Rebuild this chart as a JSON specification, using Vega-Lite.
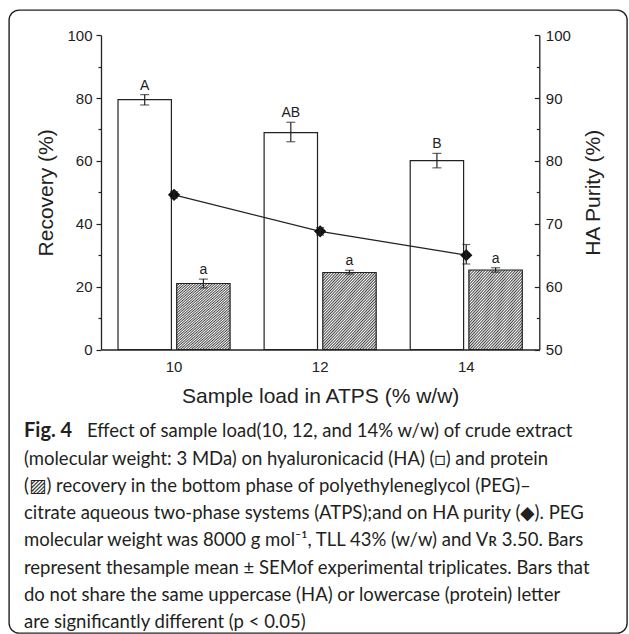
{
  "$schema": "https://vega.github.io/schema/vega-lite/v6.json",
  "width": 618,
  "height": 623,
  "autosize": {"type": "none"},
  "padding": {"left": 9, "top": 10, "right": 2, "bottom": 1},
  "background": "white",
  "config": {
    "view": {"stroke": "#231f20", "strokeWidth": 1.4, "cornerRadius": 10},
    "font": "Liberation Sans"
  },
  "datasets": {
    "bars": [
      {"load": "10", "type": "HA", "mean": 79.5, "lo": 77.8, "hi": 81.1, "letter": "A"},
      {"load": "10", "type": "Protein", "mean": 21.0, "lo": 19.6, "hi": 22.4, "letter": "a"},
      {"load": "12", "type": "HA", "mean": 69.0, "lo": 66.1, "hi": 72.3, "letter": "AB"},
      {"load": "12", "type": "Protein", "mean": 24.5, "lo": 24.0, "hi": 25.2, "letter": "a"},
      {"load": "14", "type": "HA", "mean": 60.1, "lo": 57.8, "hi": 62.4, "letter": "B"},
      {"load": "14", "type": "Protein", "mean": 25.3, "lo": 24.6, "hi": 26.0, "letter": "a"}
    ],
    "purity": [
      {"load": "10", "purity": 74.6, "lo": 74.1, "hi": 75.1},
      {"load": "12", "purity": 68.8, "lo": 68.2, "hi": 69.4},
      {"load": "14", "purity": 65.0, "lo": 63.6, "hi": 66.7}
    ],
    "caption": [
      {"line": 1, "col": "left", "role": "label", "text": "Fig. 4"},
      {"line": 1, "col": "right", "role": "body", "text": "Effect of sample load(10, 12, and 14% w/w) of crude extract"},
      {"line": 2, "col": "left", "role": "body", "text": "(molecular weight: 3 MDa) on hyaluronicacid (HA) (□) and protein"},
      {"line": 3, "col": "left", "role": "body", "text": "(▨) recovery in the bottom phase of polyethyleneglycol (PEG)–"},
      {"line": 4, "col": "left", "role": "body", "text": "citrate aqueous two-phase systems (ATPS);and on HA purity (◆). PEG"},
      {"line": 5, "col": "left", "role": "body", "text": "molecular weight was 8000 g mol⁻¹, TLL 43% (w/w) and Vʀ 3.50. Bars"},
      {"line": 6, "col": "left", "role": "body", "text": "represent thesample mean ± SEMof experimental triplicates. Bars that"},
      {"line": 7, "col": "left", "role": "body", "text": "do not share the same uppercase (HA) or lowercase (protein) letter"},
      {"line": 8, "col": "left", "role": "body", "text": "are significantly different (p < 0.05)"}
    ]
  },
  "layer": [
    {
      "layer": [
        {
          "data": {"name": "bars"},
          "layer": [
            {
              "mark": {"type": "bar", "stroke": "#222", "strokeWidth": 1.2},
              "encoding": {
                "x": {
                  "field": "load", "type": "ordinal",
                  "scale": {"type": "band", "range": [92, 530.3], "paddingInner": 0, "paddingOuter": 0},
                  "axis": {
                    "orient": "bottom", "offset": -283.5, "labelAngle": 0, "ticks": false, "tickSize": 0,
                    "labelPadding": 10, "labelFontSize": 15, "labelColor": "#222",
                    "title": "Sample load in ATPS (% w/w)", "titleFontSize": 21, "titleFontWeight": "normal",
                    "titleColor": "#222", "titlePadding": 11, "domainColor": "#222", "domainWidth": 1.3, "grid": false
                  }
                },
                "xOffset": {
                  "field": "type", "type": "nominal",
                  "scale": {"domain": ["HA", "Protein"], "paddingInner": 0.09, "paddingOuter": 0.29}
                },
                "y": {
                  "field": "mean", "type": "quantitative",
                  "scale": {"domain": [0, 100], "range": [339.5, 25.2], "nice": false},
                  "axis": {
                    "orient": "left", "offset": -92,
                    "values": [0, 10, 20, 30, 40, 50, 60, 70, 80, 90, 100],
                    "labelExpr": "datum.value % 20 === 0 ? datum.label : ''",
                    "tickSize": {"condition": {"test": "datum.value % 20 === 0", "value": 5}, "value": 3},
                    "labelPadding": 4, "labelFontSize": 15, "labelColor": "#222", "labelOverlap": false, "labelFlush": false,
                    "title": "Recovery (%)", "titleFontSize": 21, "titleFontWeight": "normal", "titleColor": "#222", "titlePadding": 10,
                    "domainColor": "#222", "domainWidth": 1.3, "tickColor": "#222", "tickWidth": 1.2, "grid": false
                  }
                },
                "fill": {
                  "condition": {
                    "test": "datum.type === 'Protein'",
                    "value": {
                      "gradient": "linear", "x1": 0, "y1": 0, "x2": 0.816, "y2": 1.133,
                      "stops": [
                        {"offset": 0, "color": "#444444"}, {"offset": 0.0109, "color": "#ffffff"},
                        {"offset": 0.0217, "color": "#444444"}, {"offset": 0.0326, "color": "#ffffff"},
                        {"offset": 0.0435, "color": "#444444"}, {"offset": 0.0543, "color": "#ffffff"},
                        {"offset": 0.0652, "color": "#444444"}, {"offset": 0.0761, "color": "#ffffff"},
                        {"offset": 0.0870, "color": "#444444"}, {"offset": 0.0978, "color": "#ffffff"},
                        {"offset": 0.1087, "color": "#444444"}, {"offset": 0.1196, "color": "#ffffff"},
                        {"offset": 0.1304, "color": "#444444"}, {"offset": 0.1413, "color": "#ffffff"},
                        {"offset": 0.1522, "color": "#444444"}, {"offset": 0.1630, "color": "#ffffff"},
                        {"offset": 0.1739, "color": "#444444"}, {"offset": 0.1848, "color": "#ffffff"},
                        {"offset": 0.1957, "color": "#444444"}, {"offset": 0.2065, "color": "#ffffff"},
                        {"offset": 0.2174, "color": "#444444"}, {"offset": 0.2283, "color": "#ffffff"},
                        {"offset": 0.2391, "color": "#444444"}, {"offset": 0.2500, "color": "#ffffff"},
                        {"offset": 0.2609, "color": "#444444"}, {"offset": 0.2717, "color": "#ffffff"},
                        {"offset": 0.2826, "color": "#444444"}, {"offset": 0.2935, "color": "#ffffff"},
                        {"offset": 0.3043, "color": "#444444"}, {"offset": 0.3152, "color": "#ffffff"},
                        {"offset": 0.3261, "color": "#444444"}, {"offset": 0.3370, "color": "#ffffff"},
                        {"offset": 0.3478, "color": "#444444"}, {"offset": 0.3587, "color": "#ffffff"},
                        {"offset": 0.3696, "color": "#444444"}, {"offset": 0.3804, "color": "#ffffff"},
                        {"offset": 0.3913, "color": "#444444"}, {"offset": 0.4022, "color": "#ffffff"},
                        {"offset": 0.4130, "color": "#444444"}, {"offset": 0.4239, "color": "#ffffff"},
                        {"offset": 0.4348, "color": "#444444"}, {"offset": 0.4457, "color": "#ffffff"},
                        {"offset": 0.4565, "color": "#444444"}, {"offset": 0.4674, "color": "#ffffff"},
                        {"offset": 0.4783, "color": "#444444"}, {"offset": 0.4891, "color": "#ffffff"},
                        {"offset": 0.5000, "color": "#444444"}, {"offset": 0.5109, "color": "#ffffff"},
                        {"offset": 0.5217, "color": "#444444"}, {"offset": 0.5326, "color": "#ffffff"},
                        {"offset": 0.5435, "color": "#444444"}, {"offset": 0.5543, "color": "#ffffff"},
                        {"offset": 0.5652, "color": "#444444"}, {"offset": 0.5761, "color": "#ffffff"},
                        {"offset": 0.5870, "color": "#444444"}, {"offset": 0.5978, "color": "#ffffff"},
                        {"offset": 0.6087, "color": "#444444"}, {"offset": 0.6196, "color": "#ffffff"},
                        {"offset": 0.6304, "color": "#444444"}, {"offset": 0.6413, "color": "#ffffff"},
                        {"offset": 0.6522, "color": "#444444"}, {"offset": 0.6630, "color": "#ffffff"},
                        {"offset": 0.6739, "color": "#444444"}, {"offset": 0.6848, "color": "#ffffff"},
                        {"offset": 0.6957, "color": "#444444"}, {"offset": 0.7065, "color": "#ffffff"},
                        {"offset": 0.7174, "color": "#444444"}, {"offset": 0.7283, "color": "#ffffff"},
                        {"offset": 0.7391, "color": "#444444"}, {"offset": 0.7500, "color": "#ffffff"},
                        {"offset": 0.7609, "color": "#444444"}, {"offset": 0.7717, "color": "#ffffff"},
                        {"offset": 0.7826, "color": "#444444"}, {"offset": 0.7935, "color": "#ffffff"},
                        {"offset": 0.8043, "color": "#444444"}, {"offset": 0.8152, "color": "#ffffff"},
                        {"offset": 0.8261, "color": "#444444"}, {"offset": 0.8370, "color": "#ffffff"},
                        {"offset": 0.8478, "color": "#444444"}, {"offset": 0.8587, "color": "#ffffff"},
                        {"offset": 0.8696, "color": "#444444"}, {"offset": 0.8804, "color": "#ffffff"},
                        {"offset": 0.8913, "color": "#444444"}, {"offset": 0.9022, "color": "#ffffff"},
                        {"offset": 0.9130, "color": "#444444"}, {"offset": 0.9239, "color": "#ffffff"},
                        {"offset": 0.9348, "color": "#444444"}, {"offset": 0.9457, "color": "#ffffff"},
                        {"offset": 0.9565, "color": "#444444"}, {"offset": 0.9674, "color": "#ffffff"},
                        {"offset": 0.9783, "color": "#444444"}, {"offset": 0.9891, "color": "#ffffff"},
                        {"offset": 1, "color": "#444444"}
                      ]
                    }
                  },
                  "value": "white"
                }
              }
            },
            {
              "mark": {"type": "rule", "color": "#222", "strokeWidth": 1.2},
              "encoding": {
                "x": {"field": "load", "type": "ordinal"},
                "xOffset": {"field": "type", "type": "nominal"},
                "y": {"field": "lo", "type": "quantitative", "scale": {"domain": [0, 100]}},
                "y2": {"field": "hi"}
              }
            },
            {
              "mark": {"type": "tick", "color": "#222", "size": 9, "thickness": 1.2},
              "encoding": {
                "x": {"field": "load", "type": "ordinal"},
                "xOffset": {"field": "type", "type": "nominal"},
                "y": {"field": "lo", "type": "quantitative", "scale": {"domain": [0, 100]}}
              }
            },
            {
              "mark": {"type": "tick", "color": "#222", "size": 9, "thickness": 1.2},
              "encoding": {
                "x": {"field": "load", "type": "ordinal"},
                "xOffset": {"field": "type", "type": "nominal"},
                "y": {"field": "hi", "type": "quantitative", "scale": {"domain": [0, 100]}}
              }
            },
            {
              "mark": {"type": "text", "baseline": "bottom", "dy": -2, "fontSize": 14, "color": "#222"},
              "encoding": {
                "x": {"field": "load", "type": "ordinal"},
                "xOffset": {"field": "type", "type": "nominal"},
                "y": {"field": "hi", "type": "quantitative", "scale": {"domain": [0, 100]}},
                "text": {"field": "letter"}
              }
            }
          ]
        },
        {
          "data": {"name": "purity"},
          "layer": [
            {
              "mark": {"type": "line", "color": "#222", "strokeWidth": 1.2},
              "encoding": {
                "x": {"field": "load", "type": "ordinal"},
                "y": {
                  "field": "purity", "type": "quantitative",
                  "scale": {"domain": [50, 100], "range": [339.5, 25.2], "nice": false, "zero": false},
                  "axis": {
                    "orient": "right", "offset": -87.7,
                    "values": [50, 55, 60, 65, 70, 75, 80, 85, 90, 95, 100],
                    "labelExpr": "datum.value % 10 === 0 ? datum.label : ''",
                    "tickSize": {"condition": {"test": "datum.value % 10 === 0", "value": -5}, "value": -3},
                    "labelPadding": 11, "labelFontSize": 15, "labelColor": "#222", "labelOverlap": false, "labelFlush": false,
                    "title": "HA Purity (%)", "titleAngle": 270, "titleBaseline": "top", "titleFontSize": 21,
                    "titleFontWeight": "normal", "titleColor": "#222", "titlePadding": 12,
                    "domainColor": "#222", "domainWidth": 1.3, "tickColor": "#222", "tickWidth": 1.2, "grid": false
                  }
                }
              }
            },
            {
              "mark": {"type": "point", "shape": "diamond", "filled": true, "size": 150, "color": "#111", "opacity": 1},
              "encoding": {
                "x": {"field": "load", "type": "ordinal"},
                "y": {"field": "purity", "type": "quantitative", "scale": {"domain": [50, 100], "zero": false}}
              }
            },
            {
              "mark": {"type": "rule", "color": "#222", "strokeWidth": 1.2},
              "encoding": {
                "x": {"field": "load", "type": "ordinal"},
                "y": {"field": "lo", "type": "quantitative", "scale": {"domain": [50, 100], "zero": false}},
                "y2": {"field": "hi"}
              }
            },
            {
              "mark": {"type": "tick", "color": "#222", "size": 8, "thickness": 1.2},
              "encoding": {
                "x": {"field": "load", "type": "ordinal"},
                "y": {"field": "lo", "type": "quantitative", "scale": {"domain": [50, 100], "zero": false}}
              }
            },
            {
              "mark": {"type": "tick", "color": "#222", "size": 8, "thickness": 1.2},
              "encoding": {
                "x": {"field": "load", "type": "ordinal"},
                "y": {"field": "hi", "type": "quantitative", "scale": {"domain": [50, 100], "zero": false}}
              }
            }
          ]
        }
      ],
      "resolve": {"scale": {"y": "independent"}, "axis": {"y": "independent"}}
    },
    {
      "data": {"name": "caption"},
      "layer": [
        {
          "transform": [{"filter": "datum.role === 'label'"}],
          "mark": {"type": "text", "align": "left", "baseline": "alphabetic", "font": "Lato, DejaVu Sans", "fontSize": 20, "fontWeight": "bold", "color": "#231f20"},
          "encoding": {
            "x": {"field": "col", "type": "nominal", "scale": {"type": "point", "domain": ["left", "right"], "range": [15, 78], "padding": 0}, "axis": null},
            "y": {"field": "line", "type": "ordinal", "scale": {"type": "point", "domain": [1, 2, 3, 4, 5, 6, 7, 8], "range": [427.3, 618.3], "padding": 0}, "axis": null},
            "text": {"field": "text"}
          }
        },
        {
          "transform": [{"filter": "datum.role === 'body'"}],
          "mark": {"type": "text", "align": "left", "baseline": "alphabetic", "font": "Lato, DejaVu Sans", "fontSize": 18.5, "color": "#231f20"},
          "encoding": {
            "x": {"field": "col", "type": "nominal", "axis": null},
            "y": {"field": "line", "type": "ordinal", "axis": null},
            "text": {"field": "text"}
          }
        }
      ]
    }
  ],
  "resolve": {"scale": {"x": "independent", "y": "independent"}, "axis": {"x": "independent", "y": "independent"}}
}
